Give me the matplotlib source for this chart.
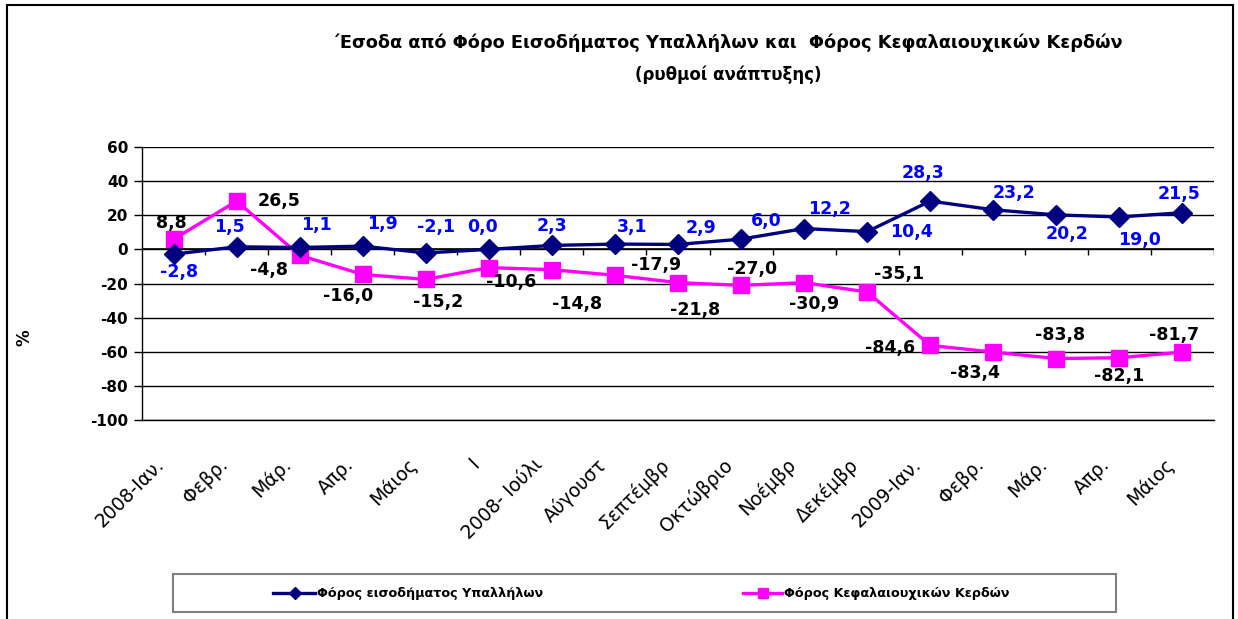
import matplotlib.pyplot as plt
from matplotlib.lines import Line2D
from matplotlib.patches import Rectangle

plt.rcParams["axes.unicode_minus"] = False

# month categories (x labels appear truncated in the source chart)
months = ["2008-Ιαν.", "Φεβρ.", "Μάρ.", "Απρ.", "Μάιος", "Ι", "2008- Ιούλι",
          "Αύγουστ", "Σεπτέμβρ", "Οκτώβριο", "Νοέμβρ", "Δεκέμβρ",
          "2009-Ιαν.", "Φεβρ.", "Μάρ.", "Απρ.", "Μάιος"]

# Φόρος εισοδήματος Υπαλλήλων (growth rate, %)
ypal_values = [-2.8, 1.5, 1.1, 1.9, -2.1, 0.0, 2.3, 3.1, 2.9, 6.0, 12.2,
               10.4, 28.3, 23.2, 20.2, 19.0, 21.5]
ypal_labels = ["-2,8", "1,5", "1,1", "1,9", "-2,1", "0,0", "2,3", "3,1", "2,9",
               "6,0", "12,2", "10,4", "28,3", "23,2", "20,2", "19,0", "21,5"]

# Φόρος Κεφαλαιουχικών Κερδών: plotted positions and the printed labels
kef_values = [5.9, 28.3, -3.5, -14.7, -17.6, -10.7, -11.9, -15.2, -19.5,
              -21.1, -19.5, -25.0, -56.3, -60.2, -64.0, -63.5, -60.2]
kef_labels = ["8,8", "26,5", "-4,8", "-16,0", "-15,2", "-10,6", "-14,8",
              "-17,9", "-21,8", "-27,0", "-30,9", "-35,1", "-84,6", "-83,4",
              "-83,8", "-82,1", "-81,7"]

# label offsets in pixels (dx, dy), matching the source placement
ypal_off = [(6, -18), (-7, 20), (17, 22), (20, 22), (10, 26), (-6, 22),
            (0, 19), (17, 17), (23, 16), (25, 18), (25, 20), (44, 0),
            (-7, 28), (21, 17), (11, -19), (20, -23), (-3, 19)]
kef_off = [(-2, 16), (42, 0), (-31, -15), (-15, -22), (12, -23), (22, -14),
           (25, -34), (41, 10), (17, -27), (11, 16), (10, -21), (32, 18),
           (-40, -3), (-18, -21), (4, 24), (0, -18), (-8, 17)]

fig = plt.figure(figsize=(12.38, 6.19), dpi=100)
W, H = 1238, 619
ax = fig.add_axes([142 / W, 1 - 420 / H, (1214 - 142) / W, (420 - 147) / H])

x = [i + 0.5 for i in range(len(months))]
ax.plot(x, ypal_values, color="#000080", lw=2.4, marker="D", ms=10.5,
        zorder=4, clip_on=False)
ax.plot(x, kef_values, color="#FF00FF", lw=2.4, marker="s", ms=12,
        zorder=3, clip_on=False)

for xi, v, lab, (dx, dy) in zip(x, ypal_values, ypal_labels, ypal_off):
    ax.annotate(lab, (xi, v), xytext=(dx, dy), textcoords="offset pixels",
                ha="center", va="center", color="#0000FF", fontsize=12.5,
                fontweight="bold", zorder=6)
for xi, v, lab, (dx, dy) in zip(x, kef_values, kef_labels, kef_off):
    ax.annotate(lab, (xi, v), xytext=(dx, dy), textcoords="offset pixels",
                ha="center", va="center", color="black", fontsize=12.5,
                fontweight="bold", zorder=6)

ax.set_xlim(0, len(months))
ax.set_ylim(-100, 60)
ax.set_yticks(range(-100, 61, 20))
ax.yaxis.grid(True, color="black", lw=1)
ax.set_axisbelow(True)
for s in ["top", "right", "bottom"]:
    ax.spines[s].set_visible(False)
ax.spines["left"].set_linewidth(1)
ax.tick_params(axis="y", length=6, width=1, labelsize=11, pad=4)
for t in ax.get_yticklabels():
    t.set_fontweight("bold")
ax.axhline(-100, color="black", lw=1, clip_on=False, zorder=1)

# category axis crosses at zero, with tick marks between categories
ax.axhline(0, color="black", lw=1.2, zorder=2)
ax.vlines(range(1, len(months) + 1), -3.5, 0, color="black", lw=1, zorder=2)

# rotated labels end a little left of each category centre
ax.set_xticks([xi - 0.3 for xi in x])
ax.set_xticklabels(months, rotation=45, ha="right", rotation_mode="anchor",
                   fontsize=13.5)
ax.tick_params(axis="x", length=0, pad=25)

fig.text(25 / W, 1 - 338 / H, "%", rotation=90, ha="center", va="center",
         fontsize=12, fontweight="bold")

fig.text(727 / W, 1 - 43 / H,
         "΄Εσοδα από Φόρο Εισοδήματος Υπαλλήλων και  Φόρος Κεφαλαιουχικών Κερδών",
         ha="center", va="center", fontsize=12.8, fontweight="bold")
fig.text(728 / W, 1 - 75 / H, "(ρυθμοί ανάπτυξης)", ha="center",
         va="center", fontsize=12, fontweight="bold")

# legend box
fig.patches.append(Rectangle((173 / W, 1 - 612 / H), (1116 - 173) / W,
                             (612 - 574) / H, transform=fig.transFigure,
                             fill=False, edgecolor="#808080", lw=1.5))
fig.lines.append(Line2D([273 / W, 295 / W, 315 / W], [1 - 593 / H] * 3,
                        transform=fig.transFigure, color="#000080", lw=2.4,
                        marker="D", markevery=[1], ms=6))
fig.text(317 / W, 1 - 593 / H, "Φόρος εισοδήματος Υπαλλήλων", ha="left",
         va="center", fontsize=9.2, fontweight="bold")
fig.lines.append(Line2D([743 / W, 763 / W, 782 / W], [1 - 593 / H] * 3,
                        transform=fig.transFigure, color="#FF00FF", lw=2.4,
                        marker="s", markevery=[1], ms=7))
fig.text(784 / W, 1 - 593 / H, "Φόρος Κεφαλαιουχικών Κερδών", ha="left",
         va="center", fontsize=9.2, fontweight="bold")

# outer chart border
fig.patches.append(Rectangle((7 / W, -0.05), (1233 - 7) / W, 1 - 5 / H + 0.05,
                             transform=fig.transFigure, fill=False,
                             edgecolor="black", lw=1.5))

fig.savefig("out.png", dpi=100)
